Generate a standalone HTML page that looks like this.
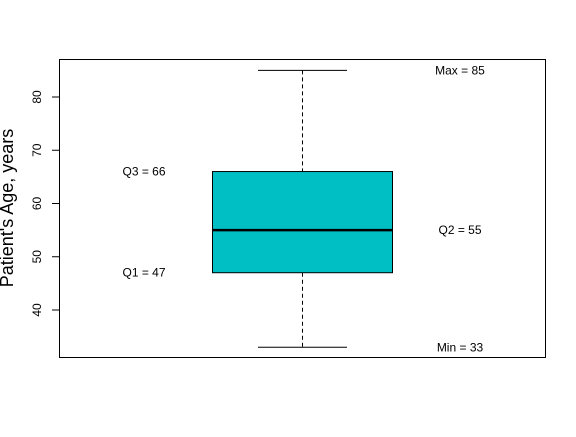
<!DOCTYPE html>
<html><head><meta charset="utf-8"><style>
body{margin:0;background:#fff}
svg text{font-family:"Liberation Sans",Arial,sans-serif}
</style></head><body>
<svg id="chart" width="576" height="432" xmlns="http://www.w3.org/2000/svg">
<rect x="59.5" y="59.5" width="486" height="298" fill="none" stroke="#000"/>
<text transform="translate(13,208) rotate(-90)" text-anchor="middle" font-size="18">Patient's Age, years</text>
<g id="yaxis"></g>
<g id="marks"></g>
<g id="labels"></g>
</svg>
<script>
const yTicks=[40,50,60,70,80];
const statNames=["Min","Q1","Q2","Q3","Max"];
const statValues=[33,47,55,66,85];
const NS="http://www.w3.org/2000/svg";
function y(v){return 310-(v-40)*5.325;}
function mk(tag,attrs,parent){const e=document.createElementNS(NS,tag);for(const k in attrs)e.setAttribute(k,attrs[k]);parent.appendChild(e);return e;}
const ya=document.getElementById('yaxis');
mk('line',{x1:59.5,x2:59.5,y1:y(yTicks[0]),y2:y(yTicks[yTicks.length-1]),stroke:'#000'},ya);
yTicks.forEach(t=>{
  const l=mk('line',{x1:52,x2:59.5,y1:y(t),y2:y(t),stroke:'#000'},ya);
  
  
  const tx=mk('text',{transform:`translate(41,${y(t)}) rotate(-90)`,'text-anchor':'middle','font-size':12},ya);
  tx.textContent=t;
  
  
});
const [mn,q1,q2,q3,mx]=statValues;
const m=document.getElementById('marks');
const w1=mk('line',{x1:302.5,x2:302.5,y1:y(mx),y2:y(q3),stroke:'#000','stroke-dasharray':'4,3'},m);

const w2=mk('line',{x1:302.5,x2:302.5,y1:y(q1),y2:y(mn),stroke:'#000','stroke-dasharray':'4,3'},m);

const c1=mk('line',{x1:258,x2:347,y1:y(mx),y2:y(mx),stroke:'#000'},m);

const c2=mk('line',{x1:258,x2:347,y1:y(mn),y2:y(mn),stroke:'#000'},m);

const bx=mk('rect',{x:212.5,y:y(q3),width:180,height:y(q1)-y(q3),fill:'#00BFC4',stroke:'#000'},m);

const md=mk('line',{x1:212.5,x2:392.5,y1:y(q2),y2:y(q2),stroke:'#000','stroke-width':2.5},m);

const lb=document.getElementById('labels');
const lx=[460,144,460,144,460];
statNames.forEach((n,i)=>{
  const t=mk('text',{x:lx[i],y:y(statValues[i])+4,'text-anchor':'middle','font-size':12},lb);
  t.textContent=n+' = '+statValues[i];
  
  
});
</script>
</body></html>
